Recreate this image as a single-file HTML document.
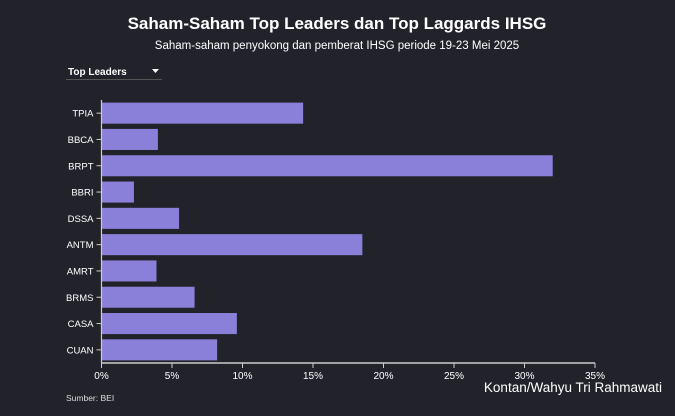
<!DOCTYPE html>
<html><head><meta charset="utf-8"><style>
html,body{margin:0;padding:0;background:#22232a;}
body{width:675px;height:411px;overflow:hidden;position:relative;font-family:"Liberation Sans","DejaVu Sans",sans-serif;color:#fff;}
</style></head><body>
<svg width="675" height="411" xmlns="http://www.w3.org/2000/svg">
<rect width="675" height="411" fill="#22232a"/>
<text x="337" y="29" text-anchor="middle" font-size="17" font-weight="bold" fill="#ffffff">Saham-Saham Top Leaders dan Top Laggards IHSG</text>
<text x="337" y="49" text-anchor="middle" font-size="11.5" fill="#ffffff">Saham-saham penyokong dan pemberat IHSG periode 19-23 Mei 2025</text>
<g>
<text x="68" y="75" font-size="10" font-weight="bold" fill="#fff">Top Leaders</text>
<path d="M152 69 L159 69 L155.5 73 Z" fill="#fff"/>
<line x1="66" y1="79.5" x2="162" y2="79.5" stroke="#555" stroke-width="1"/>
</g>
<g id="plot"></g>
<text x="66" y="401" font-size="8.5" fill="#ddd">Sumber: BEI</text>
<text x="662" y="392" text-anchor="end" font-size="13.5" fill="#fff">Kontan/Wahyu Tri Rahmawati</text>
</svg>
<script>
const categories=["TPIA","BBCA","BRPT","BBRI","DSSA","ANTM","AMRT","BRMS","CASA","CUAN"];
const values=[14.3,4.0,32.0,2.3,5.5,18.5,3.9,6.6,9.6,8.2];
const ticks=[0,5,10,15,20,25,30,35];
const ns="http://www.w3.org/2000/svg";
const g=document.getElementById('plot');
const x0=101.5,x1=595,yTop=100,yBot=363;
const xs=v=>x0+(v/35)*(x1-x0);
const band=(yBot-yTop)/categories.length;
function mk(t,a){const e=document.createElementNS(ns,t);for(const k in a)e.setAttribute(k,a[k]);g.appendChild(e);return e;}
categories.forEach((c,i)=>{
 const yc=yTop+band*(i+0.5);
 const r=mk('rect',{x:x0,y:yc-band*0.4,width:xs(values[i])-x0,height:band*0.8,fill:'#8b80d9'});
 
 
 mk('line',{x1:x0-5,x2:x0,y1:yc,y2:yc,stroke:'#ccc','stroke-width':1});
 const t=mk('text',{x:x0-8,y:yc+3.5,'text-anchor':'end','font-size':9.5,fill:'#fff'});
 t.textContent=c;
 
 
});
const ya=mk('line',{x1:x0,x2:x0,y1:yTop,y2:yBot,stroke:'#ccc','stroke-width':1.2});


const xa=mk('line',{x1:x0,x2:x1,y1:yBot,y2:yBot,stroke:'#ccc','stroke-width':1.5});


ticks.forEach(v=>{
 mk('line',{x1:xs(v),x2:xs(v),y1:yBot,y2:yBot+5,stroke:'#ccc','stroke-width':1});
 const t=mk('text',{x:xs(v),y:yBot+16,'text-anchor':'middle','font-size':10,fill:'#fff'});
 t.textContent=v+'%';
 
 
});
</script>
</body></html>
